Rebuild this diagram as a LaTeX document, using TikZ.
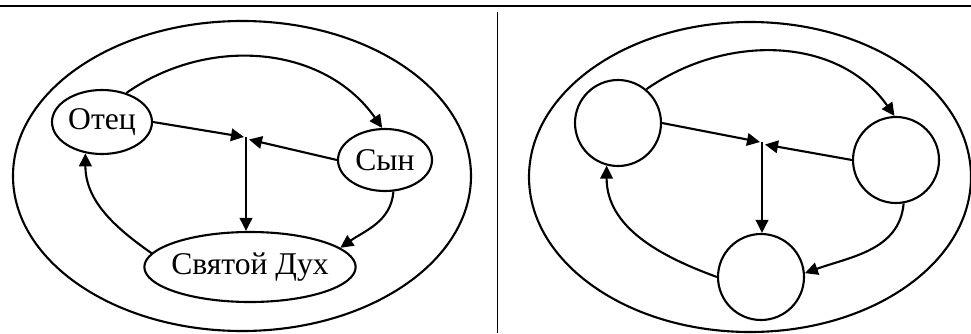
\documentclass[tikz,border=0pt]{standalone}
\usepackage{fontspec}
\setmainfont{Liberation Serif}
\usetikzlibrary{arrows.meta, positioning, shapes.geometric}

\begin{document}
\begin{tikzpicture}[
      >={Triangle[length=2.6mm, width=2.5mm]},
      line width=1.2pt,
      person/.style={ellipse, draw, inner sep=0pt, font=\fontsize{18}{20}\selectfont},
      blank/.style={circle, draw, minimum size=1.72cm, inner sep=0pt}
    ]
      \useasboundingbox (0,0) rectangle (19.42,6.66);
      % frame
      \draw[line width=1.4pt] (0,6.54) -- (19.42,6.54);
      \draw[line width=0.5pt] (9.94,6.42) -- (9.94,0);

      % left: named persons
      \draw (4.84,3.14) ellipse [x radius=4.58cm, y radius=3.10cm];
      \node[person, minimum width=2.0cm, minimum height=1.28cm] (otec) at (2.04,4.22) {Отец};
      \node[person, minimum width=1.88cm, minimum height=1.24cm] (syn) at (7.70,3.46) {Сын};
      \node[person, inner xsep=-0.8mm, minimum width=4.12cm, minimum height=1.40cm] (duh) at (5.00,1.32) {Святой Дух};
      \coordinate (mid) at (4.92,3.92);

      \draw[->] (otec.east) -- ([xshift=-0.4mm]mid);
      \draw[->] (syn.west) -- ([xshift=0.6mm,yshift=-0.5mm]mid);
      \draw[->] (mid) -- (duh.north -| mid);
      \draw[->] (otec.50) to[out=35, in=125] (syn.95);
      \draw[->] (syn.-75) to[out=-95, in=35] (duh.12);
      \draw[->] (duh.172) to[out=145, in=-90] (otec.-118);

      % right: empty circles
      \draw (15.00,3.12) ellipse [x radius=4.42cm, y radius=3.10cm];
      \node[blank] (c1) at (12.36,4.20) {};
      \node[blank] (c2) at (17.92,3.46) {};
      \node[blank] (c3) at (15.22,1.12) {};
      \coordinate (mid2) at (15.24,3.82);

      \draw[->] (c1.east) -- ([xshift=-0.4mm]mid2);
      \draw[->] (c2.west) -- ([xshift=0.6mm,yshift=-0.5mm]mid2);
      \draw[->] (mid2) -- (c3.north -| mid2);
      \draw[->] (c1.50) to[out=35, in=125] (c2.92);
      \draw[->] (c2.-80) to[out=-95, in=20] (c3.5);
      \draw[->] (c3.180) to[out=160, in=-90] (c1.-105);
    \end{tikzpicture}
\end{document}
